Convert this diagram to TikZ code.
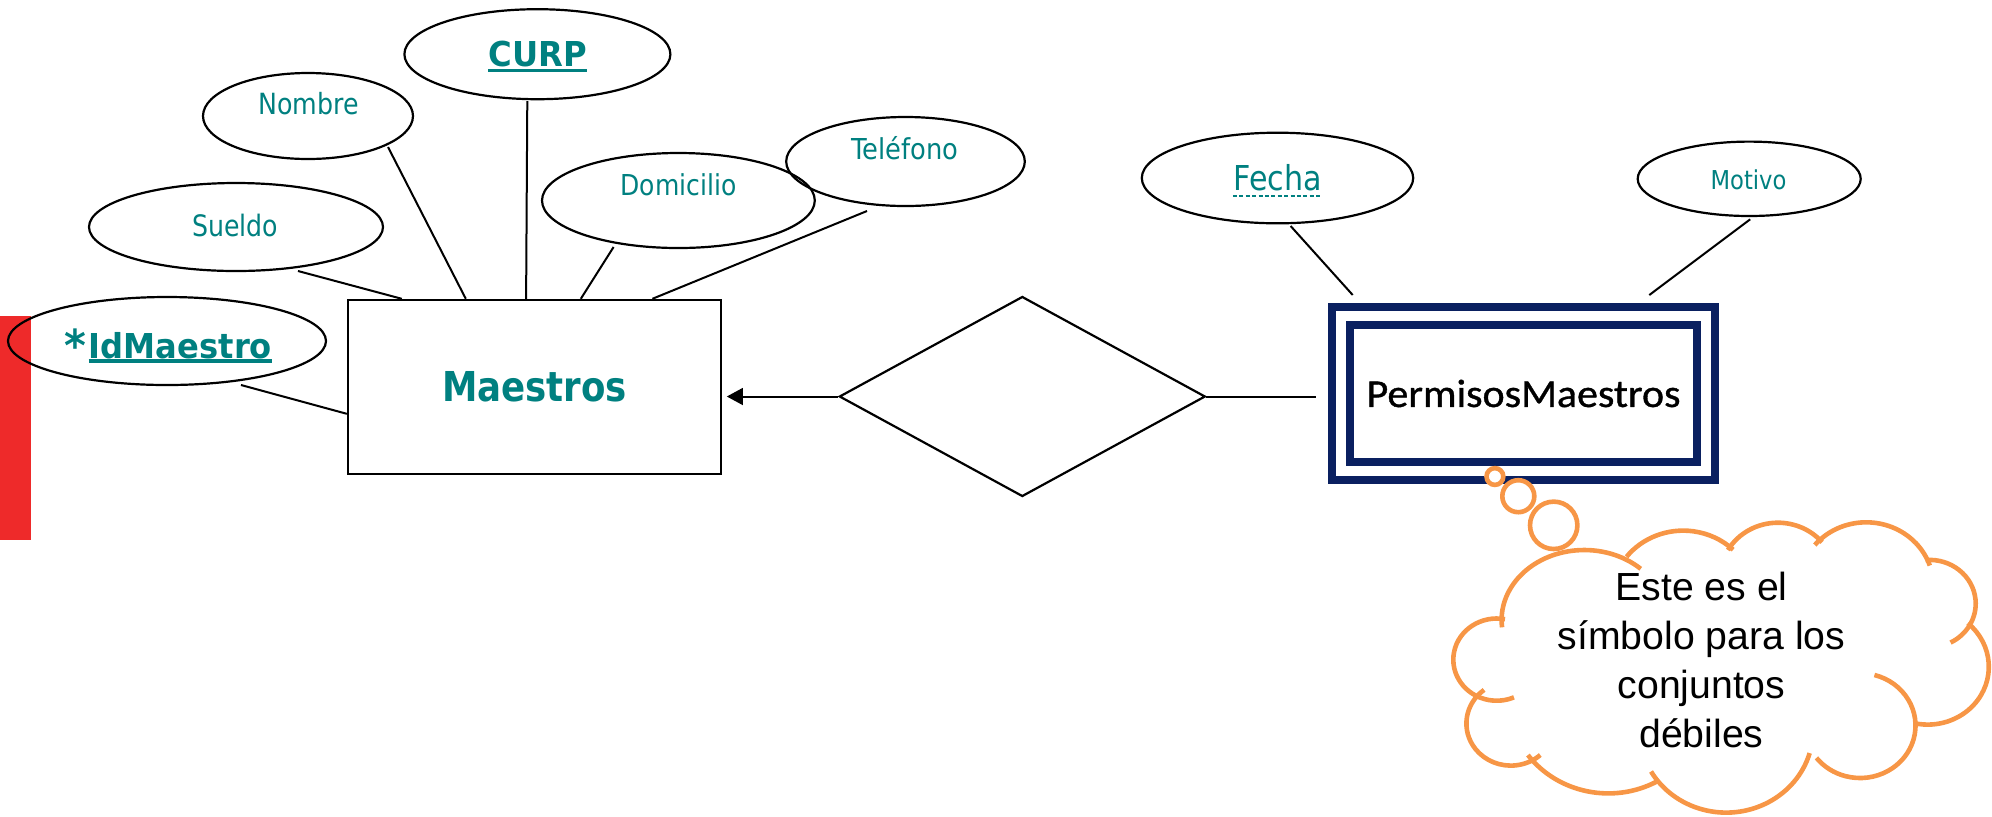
\documentclass[tikz,border=0pt]{standalone}
\usepackage{fontspec}
\usepackage{graphicx}
\usetikzlibrary{shapes.geometric,arrows.meta,calc}
\setmainfont{DejaVu Sans}
\newfontfamily\carlitofont[FakeBold=0.9]{Carlito}
\newfontfamily\arialfont{Liberation Sans}
\definecolor{erteal}{RGB}{0,128,128}
\definecolor{ernavy}{RGB}{10,32,96}
\definecolor{erorange}{RGB}{247,150,70}
\definecolor{erred}{RGB}{238,42,42}
% horizontal squeeze of a label
\newcommand\hsq[2]{\scalebox{#1}[1]{#2}}
\newcommand\fsz[1]{\fontsize{#1}{#1}\selectfont}
\begin{document}
\begin{tikzpicture}[x=0.5pt,y=0.5pt,
  attr/.style={ellipse, draw, line width=1.1pt, inner sep=0pt},
  lbl/.style={inner sep=0pt, anchor=base, text=erteal},
  link/.style={line width=1pt},
  cloudline/.style={draw=erorange, line width=2.3pt},
  bubble/.style={draw=erorange, fill=white, line width=2.3pt}]
\useasboundingbox (0,0) rectangle (1992,-816);

% red margin bar
\fill[erred] (0,-316) rectangle (31,-540);

% strong entity
\node[draw, line width=1.2pt, minimum width=186.5pt, minimum height=87pt, inner sep=0pt,
      text=erteal, font=\bfseries\fsz{20.6pt}] (maestros) at (534.5,-387) {\hsq{0.864}{Maestros}};

% attributes of Maestros
\node[attr, minimum width=159pt, minimum height=44pt] (idm) at (167,-341) {};
\node[attr, minimum width=147pt, minimum height=44pt] (sueldo) at (236,-227) {};
\node[attr, minimum width=105pt, minimum height=43pt] (nombre) at (308,-116) {};
\node[attr, minimum width=133pt, minimum height=45pt] (curp) at (537.4,-54.2) {};
\node[attr, minimum width=136.4pt, minimum height=47.5pt] (domicilio) at (678.4,-200.5) {};
\node[attr, minimum width=119.3pt, minimum height=44.5pt] (telefono) at (905.5,-161.5) {};

\node[lbl, font=\bfseries\fsz{17.15pt}] (idmT) at (180.5,-358) {\hsq{0.938}{IdMaestro}};
\node[lbl, font=\bfseries\fsz{22pt}, anchor=base east] (idmStar) at ($(idmT.base west)+(-2,-3)$) {\hsq{0.95}{*}};
\node[lbl, font=\fsz{14.75pt}] (sueldoT) at (235,-236) {\hsq{0.855}{Sueldo}};
\node[lbl, font=\fsz{14.6pt}] (nombreT) at (308.5,-114) {\hsq{0.866}{Nombre}};
\node[lbl, font=\bfseries\fsz{17.15pt}] (curpT) at (537.9,-66.7) {\hsq{0.94}{CURP}};
\node[lbl, font=\fsz{14.4pt}] (domicilioT) at (678.6,-195) {\hsq{0.869}{Domicilio}};
\node[lbl, font=\fsz{14.4pt}] (telefonoT) at (905,-159) {\hsq{0.894}{Teléfono}};

% key underlines
\draw[erteal, line width=1.7pt] ($(idmT.base west)+(0,-3)$) -- ($(idmT.base east)+(0,-3)$);
\draw[erteal, line width=1.7pt] ($(curpT.base west)+(0,-4)$) -- ($(curpT.base east)+(0,-4)$);

% weak entity
\node[draw=ernavy, double=white, line width=4pt, double distance=5pt, outer sep=0pt,
      minimum width=182.5pt, minimum height=77.5pt, inner sep=0pt,
      font=\carlitofont\fsz{19.8pt}] (perm) at (1523.5,-393.5) {\hsq{1.06}{PermisosMaestros}};

% attributes of PermisosMaestros
\node[attr, minimum width=135.7pt, minimum height=45.3pt] (fecha) at (1277.5,-178) {};
\node[attr, minimum width=111.5pt, minimum height=37.2pt] (motivo) at (1749.2,-178.8) {};
\node[lbl, font=\fsz{17.15pt}] (fechaT) at (1277.5,-190) {\hsq{0.879}{Fecha}};
\node[lbl, font=\fsz{13pt}] (motivoT) at (1748.5,-189) {\hsq{0.871}{Motivo}};
\draw[erteal, line width=0.8pt, dash pattern=on 2pt off 1.2pt]
  ($(fechaT.base west)+(0,-6)$) -- ($(fechaT.base east)+(0,-6)$);

% identifying relationship
\node[diamond, draw, line width=1.1pt, minimum width=183pt, minimum height=100pt, inner sep=0pt] (rel) at (1022.3,-396.5) {};

% connectors
\draw[link] ($(idm.center)+(74,-44)$) -- ($(maestros.north west)+(0,-115)$);
\draw[link] ($(sueldo.center)+(62,-44)$) -- ($(maestros.north west)+(55,0)$);
\draw[link] ($(nombre.center)+(80,-31)$) -- ($(maestros.north west)+(119,0)$);
\draw[link] ($(curp.center)+(-10.1,-46.8)$) -- ($(maestros.north west)+(179.3,0)$);
\draw[link] ($(domicilio.center)+(-64.8,-46.5)$) -- ($(maestros.north west)+(234,0)$);
\draw[link] ($(telefono.center)+(-38.5,-49.5)$) -- ($(maestros.north west)+(305.6,0)$);
\draw[link] ($(fecha.center)+(13.1,-48)$) -- ($(perm.north west)+(11.7,21)$);
\draw[link] ($(motivo.center)+(1,-40.5)$) -- ($(perm.north west)+(308.3,21)$);
\draw[link, -{Triangle[length=8pt,width=8.4pt]}] (rel.west) -- ($(maestros.east |- rel.west)+(4.6,0)$);
\draw[link] (rel.east) -- ($(perm.west |- rel.east)+(-25,0)$);

% thought bubbles
\draw[bubble] (1494.9,-476.5) circle[radius=8.4];
\draw[bubble] (1518.3,-496.2) circle[radius=16];
\draw[bubble] (1553.7,-525.3) circle[radius=23.7];

% cloud outline, one arc per puff
\draw[cloudline] ([shift={(186:82.7 and 70)}]1584.3,-620) arc[start angle=186, end angle=47, x radius=82.7, y radius=70];
\draw[cloudline] ([shift={(142:71.9 and 68.1)}]1683.2,-598.7) arc[start angle=142, end angle=46, x radius=71.9, y radius=68.1];
\draw[cloudline] ([shift={(150:57.7 and 54.7)}]1777.9,-577.4) arc[start angle=150, end angle=40, x radius=57.7, y radius=54.7];
\draw[cloudline] ([shift={(140:67.1 and 63.5)}]1866.2,-585.8) arc[start angle=140, end angle=18.6, x radius=67.1, y radius=63.5];
\draw[cloudline] ([shift={(95:46.1 and 43.7)}]1929.6,-603.6) arc[start angle=95, end angle=-63, x radius=46.1, y radius=43.7];
\draw[cloudline] ([shift={(49:61 and 57.8)}]1927.8,-666.8) arc[start angle=49, end angle=-102, x radius=61, y radius=57.8];
\draw[cloudline] ([shift={(75:55.4 and 52.4)}]1860.1,-725.6) arc[start angle=75, end angle=-142, x radius=55.4, y radius=52.4];
\draw[cloudline] ([shift={(-16:86.8 and 82.2)}]1726.2,-730.4) arc[start angle=-16, end angle=-150, x radius=86.8, y radius=82.2];
\draw[cloudline] ([shift={(-61:100 and 94.7)}]1608.3,-698.7) arc[start angle=-61, end angle=-143.5, x radius=100, y radius=94.7];
\draw[cloudline] ([shift={(127:44.4 and 42.1)}]1510.8,-723.5) arc[start angle=127, end angle=311.6, x radius=44.4, y radius=42.1];
\draw[cloudline] ([shift={(79:43.4 and 41.1)}]1496.7,-659.6) arc[start angle=79, end angle=293.4, x radius=43.4, y radius=41.1];

% multi-line text: base anchor sits on the last line
\node[font=\arialfont\fontsize{19.6pt}{24.5pt}\selectfont, align=center, inner sep=0pt, anchor=base]
  (note) at (1701.5,-747) {Este es el\\símbolo para los\\conjuntos\\débiles};
\end{tikzpicture}
\end{document}
